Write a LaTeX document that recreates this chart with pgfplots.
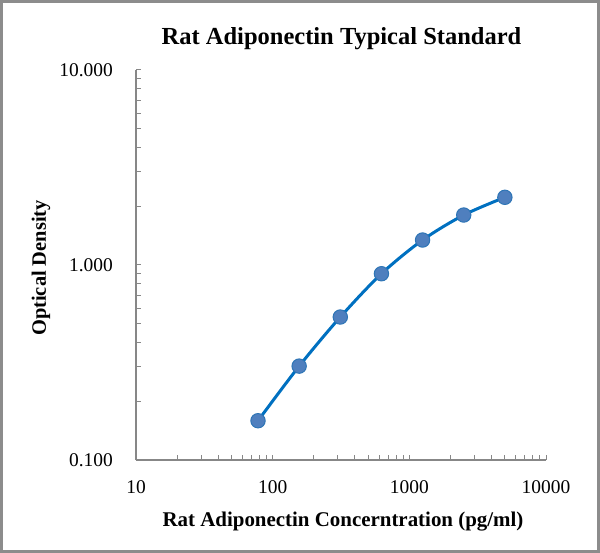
\documentclass[border=0pt]{standalone}
\usepackage{fontspec}
\setmainfont{Liberation Serif}
\usepackage{pgfplots}
\pgfplotsset{compat=1.18}
\definecolor{axgray}{HTML}{878787}
\definecolor{framegray}{HTML}{8C8C8C}
\definecolor{lineblue}{HTML}{0070C0}
\definecolor{markfill}{HTML}{4F7FBE}
\definecolor{markedge}{HTML}{2E75B6}
\begin{document}
\begin{tikzpicture}[x=1bp,y=1bp]
\useasboundingbox (-136,-93) rectangle (464,460);
\draw[framegray, line width=3bp] (-134.5,-91.5) rectangle (462.5,458.5);
\begin{axis}[
  at={(0,0)}, anchor=south west,
  scale only axis, width=410bp, height=390bp,
  xmode=log, ymode=log,
  xmin=10, xmax=10000, ymin=0.1, ymax=10,
  axis x line*=bottom, axis y line*=left,
  axis line style={axgray, line width=1.3bp},
  tick align=inside,
  tick style={axgray, line width=1bp},
  major tick length=5bp, minor tick length=5bp,
  xtick={10,100,1000,10000},
  xticklabels={10,100,1000,10000},
  minor xtick={20,30,40,50,60,70,80,90,200,300,400,500,600,700,800,900,2000,3000,4000,5000,6000,7000,8000,9000},
  ytick={0.1,1,10},
  yticklabels={0.100,1.000,10.000},
  minor ytick={0.2,0.3,0.4,0.5,0.6,0.7,0.8,0.9,2,3,4,5,6,7,8,9},
  xticklabel style={font=\fontsize{19.5}{22}\selectfont, inner sep=0pt, anchor=base, yshift=-33bp},
  yticklabel style={font=\fontsize{19.5}{22}\selectfont, inner sep=0pt, anchor=east, xshift=-23bp},
  clip=false,
]
\addplot[lineblue, line width=3bp, smooth, mark=*, mark size=7.2bp,
  mark options={fill=markfill, draw=markedge, line width=1bp}]
  coordinates {
  (78.125,0.159) (156.25,0.303) (312.5,0.541) (625,0.902)
  (1250,1.343) (2500,1.804) (5000,2.224)
  };
\end{axis}
\node[anchor=base, inner sep=0pt, font=\fontsize{24.6}{28}\selectfont\bfseries] at (205.5,415) {Rat Adiponectin Typical Standard};
\node[anchor=base, inner sep=0pt, font=\fontsize{21}{24}\selectfont\bfseries] at (207,-66.5) {Rat Adiponectin Concerntration (pg/ml)};
\node[anchor=center, inner sep=0pt, rotate=90, font=\fontsize{20.5}{24}\selectfont\bfseries] at (-95,192) {Optical Density};
\end{tikzpicture}
\end{document}
